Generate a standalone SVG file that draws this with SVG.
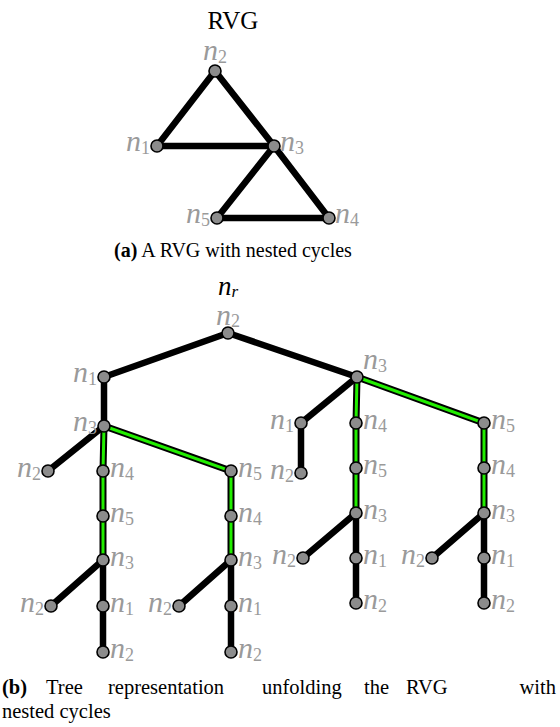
<svg xmlns="http://www.w3.org/2000/svg" width="560" height="727" viewBox="0 0 560 727">
<style>
.e{stroke:#000;stroke-width:6.5;stroke-linecap:round;fill:none}
.go{stroke:#000;stroke-width:7;stroke-linecap:butt;fill:none}
.gi{stroke:#22ee00;stroke-width:3;stroke-linecap:butt;fill:none}
.nd{fill:#8c8c8c;stroke:#000;stroke-width:1.6}
.lb{font-family:"Liberation Serif",serif;font-style:italic;font-size:30px;fill:#9a9a9a}
.lb .s{font-style:normal;font-size:18px}
.lk{fill:#000}
.cap{font-family:"Liberation Serif",serif;font-size:20px;fill:#000}
.cb{font-family:"Liberation Serif",serif;font-size:20.5px;fill:#000}
.b{font-weight:bold}
</style>
<rect width="560" height="727" fill="#fff"/>
<text x="233" y="29" class="cap" text-anchor="middle" style="font-size:25px">RVG</text>
<g id="connectors">
<line class="e" x1="215" y1="71" x2="157" y2="146"/>
<line class="e" x1="215" y1="71" x2="274" y2="146"/>
<line class="e" x1="157" y1="146" x2="274" y2="146"/>
<line class="e" x1="274" y1="146" x2="217" y2="218"/>
<line class="e" x1="274" y1="146" x2="329" y2="218"/>
<line class="e" x1="217" y1="218" x2="329" y2="218"/>
<line class="e" x1="228" y1="333" x2="104" y2="377"/>
<line class="e" x1="228" y1="333" x2="357" y2="377"/>
<line class="e" x1="104" y1="377" x2="104" y2="426"/>
<line class="e" x1="104" y1="426" x2="48" y2="471"/>
<line class="e" x1="103" y1="560" x2="51" y2="606"/>
<line class="e" x1="103" y1="560" x2="103" y2="606"/>
<line class="e" x1="103" y1="606" x2="103" y2="652"/>
<line class="e" x1="231" y1="560" x2="179" y2="606"/>
<line class="e" x1="231" y1="560" x2="231" y2="606"/>
<line class="e" x1="231" y1="606" x2="231" y2="652"/>
<line class="e" x1="357" y1="377" x2="301" y2="423"/>
<line class="e" x1="301" y1="423" x2="301" y2="473"/>
<line class="e" x1="356" y1="513" x2="303" y2="558"/>
<line class="e" x1="356" y1="513" x2="356" y2="558"/>
<line class="e" x1="356" y1="558" x2="356" y2="603"/>
<line class="e" x1="484" y1="513" x2="432" y2="558"/>
<line class="e" x1="484" y1="513" x2="484" y2="558"/>
<line class="e" x1="484" y1="558" x2="484" y2="603"/>
<g>
<path class="go" d="M104 426 L103 471 L103 516 L103 560 M104 426 L231 471 L231 516 L231 560 M357 377 L356 423 L356 468 L356 513 M357 377 L484 423 L484 468 L484 513"/>
<path class="gi" d="M104 426 L103 471 L103 516 L103 560 M104 426 L231 471 L231 516 L231 560 M357 377 L356 423 L356 468 L356 513 M357 377 L484 423 L484 468 L484 513"/>
</g>
</g>
<g id="g-n2"><circle class="nd" cx="215" cy="71" r="6"/><text class="lb" x="215" y="60" text-anchor="middle">n<tspan class="s" dy="3">2</tspan></text></g>
<g id="g-n1"><circle class="nd" cx="157" cy="146" r="6"/><text class="lb" x="150" y="151" text-anchor="end">n<tspan class="s" dy="3">1</tspan></text></g>
<g id="g-n3"><circle class="nd" cx="274" cy="146" r="6"/><text class="lb" x="280" y="151">n<tspan class="s" dy="3">3</tspan></text></g>
<g id="g-n5"><circle class="nd" cx="217" cy="218" r="6"/><text class="lb" x="210" y="223" text-anchor="end">n<tspan class="s" dy="3">5</tspan></text></g>
<g id="g-n4"><circle class="nd" cx="329" cy="218" r="6"/><text class="lb" x="335" y="223">n<tspan class="s" dy="3">4</tspan></text></g>
<text class="cap" x="233" y="257" text-anchor="middle"><tspan class="b">(a)</tspan>  A  RVG  with  nested  cycles</text>
<g id="t-root"><circle class="nd" cx="228" cy="333" r="6"/><text class="lb lk" x="228" y="295" text-anchor="middle" style="font-size:27px">n<tspan class="s" dy="2" style="font-style:italic;font-size:17px">r</tspan></text><text class="lb" x="228" y="325" text-anchor="middle">n<tspan class="s" dy="2">2</tspan></text></g>
<g id="t-a"><circle class="nd" cx="104" cy="377" r="6"/><text class="lb" x="97" y="382" text-anchor="end">n<tspan class="s" dy="3">1</tspan></text></g>
<g id="t-b"><circle class="nd" cx="104" cy="426" r="6"/><text class="lb" x="97" y="431" text-anchor="end">n<tspan class="s" dy="3">3</tspan></text></g>
<g id="t-c"><circle class="nd" cx="48" cy="471" r="6"/><text class="lb" x="41" y="477" text-anchor="end">n<tspan class="s" dy="3">2</tspan></text></g>
<g id="t-d"><circle class="nd" cx="103" cy="471" r="6"/><text class="lb" x="110" y="477">n<tspan class="s" dy="3">4</tspan></text></g>
<g id="t-e"><circle class="nd" cx="231" cy="471" r="6"/><text class="lb" x="238" y="477">n<tspan class="s" dy="3">5</tspan></text></g>
<g id="t-f"><circle class="nd" cx="103" cy="516" r="6"/><text class="lb" x="110" y="522">n<tspan class="s" dy="3">5</tspan></text></g>
<g id="t-g"><circle class="nd" cx="231" cy="516" r="6"/><text class="lb" x="238" y="522">n<tspan class="s" dy="3">4</tspan></text></g>
<g id="t-h"><circle class="nd" cx="103" cy="560" r="6"/><text class="lb" x="110" y="566">n<tspan class="s" dy="3">3</tspan></text></g>
<g id="t-i"><circle class="nd" cx="231" cy="560" r="6"/><text class="lb" x="238" y="566">n<tspan class="s" dy="3">3</tspan></text></g>
<g id="t-j"><circle class="nd" cx="51" cy="606" r="6"/><text class="lb" x="44" y="612" text-anchor="end">n<tspan class="s" dy="3">2</tspan></text></g>
<g id="t-k"><circle class="nd" cx="103" cy="606" r="6"/><text class="lb" x="110" y="612">n<tspan class="s" dy="3">1</tspan></text></g>
<g id="t-l"><circle class="nd" cx="103" cy="652" r="6"/><text class="lb" x="110" y="658">n<tspan class="s" dy="3">2</tspan></text></g>
<g id="t-m"><circle class="nd" cx="179" cy="606" r="6"/><text class="lb" x="172" y="612" text-anchor="end">n<tspan class="s" dy="3">2</tspan></text></g>
<g id="t-n"><circle class="nd" cx="231" cy="606" r="6"/><text class="lb" x="238" y="612">n<tspan class="s" dy="3">1</tspan></text></g>
<g id="t-o"><circle class="nd" cx="231" cy="652" r="6"/><text class="lb" x="238" y="658">n<tspan class="s" dy="3">2</tspan></text></g>
<g id="t-p"><circle class="nd" cx="357" cy="377" r="6"/><text class="lb" x="363" y="369">n<tspan class="s" dy="3">3</tspan></text></g>
<g id="t-q"><circle class="nd" cx="301" cy="423" r="6"/><text class="lb" x="294" y="429" text-anchor="end">n<tspan class="s" dy="3">1</tspan></text></g>
<g id="t-s"><circle class="nd" cx="356" cy="423" r="6"/><text class="lb" x="363" y="429">n<tspan class="s" dy="3">4</tspan></text></g>
<g id="t-t"><circle class="nd" cx="484" cy="423" r="6"/><text class="lb" x="491" y="429">n<tspan class="s" dy="3">5</tspan></text></g>
<g id="t-u"><circle class="nd" cx="301" cy="473" r="6"/><text class="lb" x="294" y="479" text-anchor="end">n<tspan class="s" dy="3">2</tspan></text></g>
<g id="t-v"><circle class="nd" cx="356" cy="468" r="6"/><text class="lb" x="363" y="474">n<tspan class="s" dy="3">5</tspan></text></g>
<g id="t-w"><circle class="nd" cx="484" cy="468" r="6"/><text class="lb" x="491" y="474">n<tspan class="s" dy="3">4</tspan></text></g>
<g id="t-x"><circle class="nd" cx="356" cy="513" r="6"/><text class="lb" x="363" y="519">n<tspan class="s" dy="3">3</tspan></text></g>
<g id="t-y"><circle class="nd" cx="484" cy="513" r="6"/><text class="lb" x="491" y="519">n<tspan class="s" dy="3">3</tspan></text></g>
<g id="t-z1"><circle class="nd" cx="303" cy="558" r="6"/><text class="lb" x="296" y="564" text-anchor="end">n<tspan class="s" dy="3">2</tspan></text></g>
<g id="t-z2"><circle class="nd" cx="356" cy="558" r="6"/><text class="lb" x="363" y="564">n<tspan class="s" dy="3">1</tspan></text></g>
<g id="t-z3"><circle class="nd" cx="356" cy="603" r="6"/><text class="lb" x="363" y="609">n<tspan class="s" dy="3">2</tspan></text></g>
<g id="t-z4"><circle class="nd" cx="432" cy="558" r="6"/><text class="lb" x="425" y="564" text-anchor="end">n<tspan class="s" dy="3">2</tspan></text></g>
<g id="t-z5"><circle class="nd" cx="484" cy="558" r="6"/><text class="lb" x="491" y="564">n<tspan class="s" dy="3">1</tspan></text></g>
<g id="t-z6"><circle class="nd" cx="484" cy="603" r="6"/><text class="lb" x="491" y="609">n<tspan class="s" dy="3">2</tspan></text></g>
<g class="cb">
<text class="cb b" x="2" y="694">(b)</text>
<text class="cb" x="46" y="694">Tree</text>
<text class="cb" x="108" y="694">representation</text>
<text class="cb" x="262" y="694">unfolding</text>
<text class="cb" x="364" y="694">the</text>
<text class="cb" x="406" y="694">RVG</text>
<text class="cb" x="556" y="694" text-anchor="end">with</text>
<text class="cb" x="2" y="718">nested cycles</text>
</g>
</svg>
